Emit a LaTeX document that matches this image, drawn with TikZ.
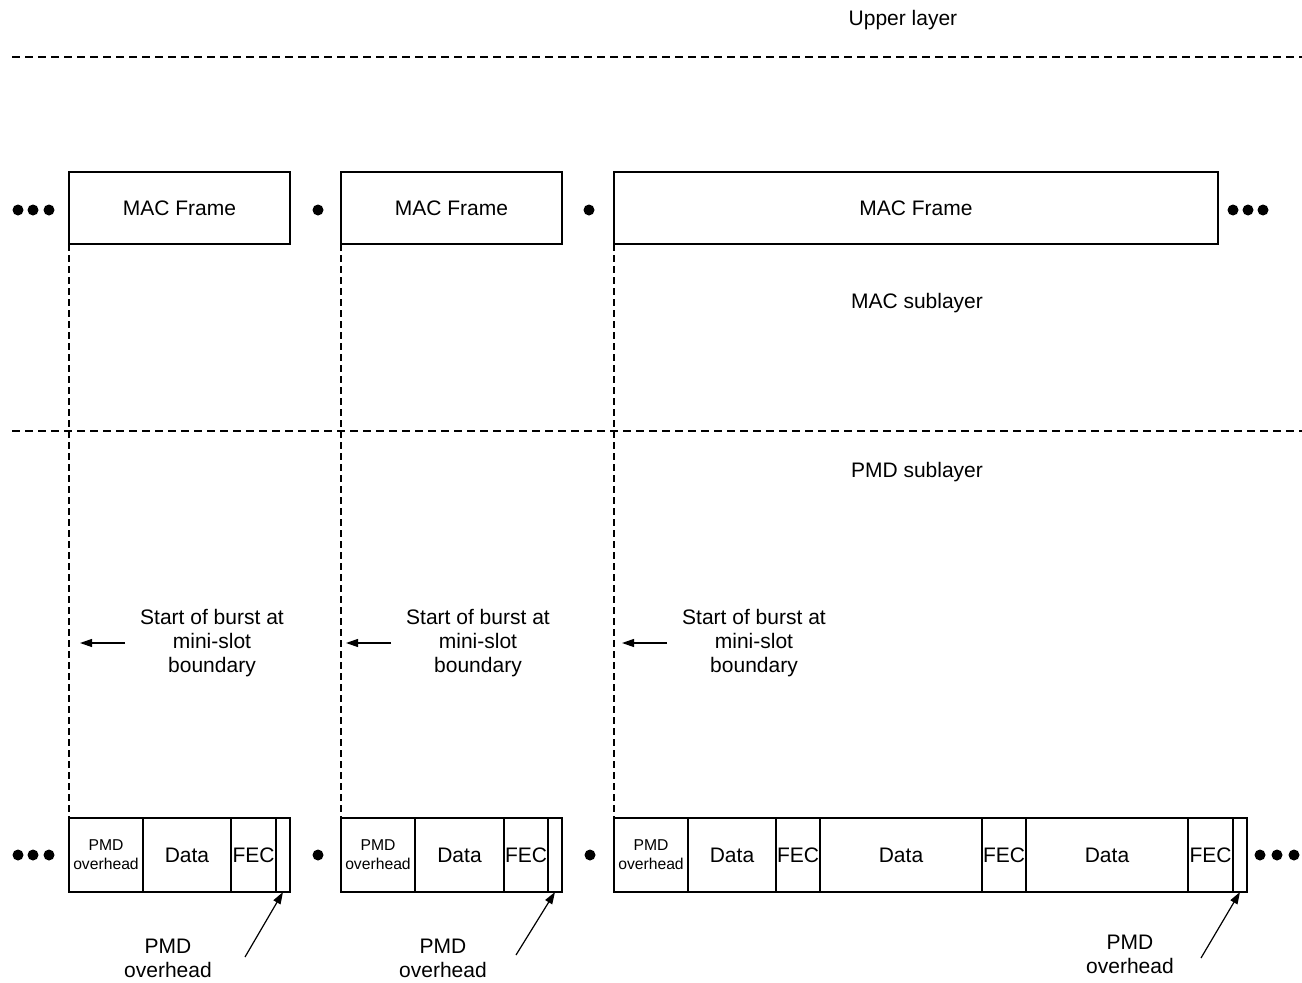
\documentclass[tikz,border=0pt]{standalone}
\usepackage{fontspec}
\setmainfont{Liberation Sans}
\usetikzlibrary{arrows.meta}

\tikzset{
  layerline/.style={line width=1.3pt,dash pattern=on 8pt off 5pt},
  slotline/.style={line width=1.3pt,dash pattern=on 7pt off 4pt},
  macbox/.style={draw,line width=1.1pt,minimum height=72pt,inner sep=0pt,outer sep=0pt,anchor=north west,font=\fontsize{21}{24}\selectfont},
  seg/.style={draw,line width=1.3pt,minimum height=74pt,inner sep=0pt,outer sep=0pt,anchor=west,align=center,font=\fontsize{21}{24}\selectfont},
  ovseg/.style={seg,minimum width=74pt,font=\fontsize{15.7}{19}\selectfont},
  txt/.style={align=center,inner sep=0pt,yshift=-2pt,font=\fontsize{21}{24}\selectfont},
  burst/.style={txt,inner xsep=15pt},
  arr/.style={line width=1.2pt,-{Triangle[length=12pt,width=8pt]}},
  dot/.style={fill=black}
}

\begin{document}
\begin{tikzpicture}[x=1pt,y=-1pt]
\useasboundingbox (0,0) rectangle (1302,983);

% layer boundaries
\node[txt] (upper) at (903,18) {Upper layer};
\draw[layerline] (12,57) -- (1302,57);
\node[txt] (macsub) at (917,301) {MAC sublayer};
\draw[layerline] (12,431) -- (1302,431);
\node[txt] (pmdsub) at (917,470) {PMD sublayer};

% MAC frames
\node[macbox,minimum width=221pt] (mac1) at (69,172) {MAC Frame};
\node[macbox,minimum width=221pt] (mac2) at (341,172) {MAC Frame};
\node[macbox,minimum width=604pt] (mac3) at (614,172) {MAC Frame};

\foreach \x in {18,33,49,318,589,1233,1248,1263}
  \fill[dot] (\x,210) circle (5.5);

% PMD bursts
\node[ovseg] (ovA) at (69,855) {PMD\\overhead};
\node[seg,minimum width=88pt] (dataA) at (ovA.east) {Data};
\node[seg,minimum width=45pt] (fecA) at (dataA.east) {FEC};
\node[seg,minimum width=14pt] (endA) at (fecA.east) {};

\node[ovseg] (ovB) at (341,855) {PMD\\overhead};
\node[seg,minimum width=89pt] (dataB) at (ovB.east) {Data};
\node[seg,minimum width=44pt] (fecB) at (dataB.east) {FEC};
\node[seg,minimum width=14pt] (endB) at (fecB.east) {};

\node[ovseg] (ovC) at (614,855) {PMD\\overhead};
\node[seg,minimum width=88pt] (dataC1) at (ovC.east) {Data};
\node[seg,minimum width=44pt] (fecC1) at (dataC1.east) {FEC};
\node[seg,minimum width=162pt] (dataC2) at (fecC1.east) {Data};
\node[seg,minimum width=44pt] (fecC2) at (dataC2.east) {FEC};
\node[seg,minimum width=162pt] (dataC3) at (fecC2.east) {Data};
\node[seg,minimum width=45pt] (fecC3) at (dataC3.east) {FEC};
\node[seg,minimum width=14pt] (endC) at (fecC3.east) {};

\foreach \x in {18,33,49,318,590,1260,1277,1294}
  \fill[dot] (\x,855) circle (5.5);

% mini-slot boundaries
\draw[slotline] (mac1.south west) -- (ovA.north west);
\draw[slotline] (mac2.south west) -- (ovB.north west);
\draw[slotline] (mac3.south west) -- (ovC.north west);

\node[burst] (sb1) at (212,641) {Start of burst at\\mini-slot\\boundary};
\node[burst] (sb2) at (478,641) {Start of burst at\\mini-slot\\boundary};
\node[burst] (sb3) at (754,641) {Start of burst at\\mini-slot\\boundary};
\draw[arr] (sb1.west) -- ++(-45,0);
\draw[arr] (sb2.west) -- ++(-45,0);
\draw[arr] (sb3.west) -- ++(-45,0);

% trailing overhead labels
\node[txt] (po1) at (168,956) {PMD\\overhead};
\node[txt] (po2) at (443,956) {PMD\\overhead};
\node[txt] (po3) at (1130,952) {PMD\\overhead};
\coordinate (t1) at (245,957);
\coordinate (t2) at (516,955);
\coordinate (t3) at (1201,958);
\draw[arr] (t1) -- (endA.south);
\draw[arr] (t2) -- (endB.south);
\draw[arr] (t3) -- (endC.south);
\end{tikzpicture}
\end{document}
